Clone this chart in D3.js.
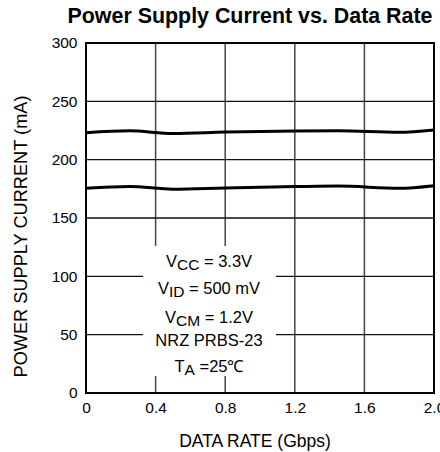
<!DOCTYPE html>
<html>
<head>
<meta charset="utf-8">
<script src="https://cdn.jsdelivr.net/npm/d3@7"></script>
<style>
    body { margin: 0; background: #fff; }
    svg { display: block; font-family: "Liberation Sans", Arial, sans-serif; }
</style>
</head>
<body>
<svg id="chart"></svg>
<script>
// data
const rates = [0, 0.25, 0.5, 0.8, 1.2, 1.45, 1.8, 2.0];
const upperCurrent = [223.1, 224.8, 222.4, 223.7, 224.6, 224.7, 223.4, 225.4];
const lowerCurrent = [175.4, 177.1, 174.7, 175.8, 176.9, 177.4, 175.5, 177.7];
const xTicks = [0, 0.4, 0.8, 1.2, 1.6, 2.0];
const yTicks = [0, 50, 100, 150, 200, 250, 300];
const notes = [
    { main: 'V', sub: 'CC', rest: ' = 3.3V' },
    { main: 'V', sub: 'ID', rest: ' = 500 mV' },
    { main: 'V', sub: 'CM', rest: ' = 1.2V' },
    { main: 'NRZ PRBS-23', sub: '', rest: '' },
    { main: 'T', sub: 'A', rest: ' =25\u2103' }
];

const width = 440, height = 452;
const margin = { top: 43, right: 6, bottom: 59, left: 86 };
const innerW = width - margin.left - margin.right;
const innerH = height - margin.top - margin.bottom;

const svg = d3.select('#chart')
    .attr('width', width)
    .attr('height', height);

const bounds = svg.append('g')
    .attr('transform', `translate(${margin.left}, ${margin.top})`);

const xScale = d3.scaleLinear().domain([0, 2]).range([0, innerW]);
const yScale = d3.scaleLinear().domain([0, 300]).range([innerH, 0]);

// grid
bounds.append('g').selectAll('line')
    .data(xTicks.slice(1, -1))
    .join('line')
    .attr('x1', d => xScale(d)).attr('x2', d => xScale(d))
    .attr('y1', 0).attr('y2', innerH)
    .attr('stroke', '#444').attr('stroke-width', 1.5);

bounds.append('g').selectAll('line')
    .data(yTicks.slice(1, -1))
    .join('line')
    .attr('x1', 0).attr('x2', innerW)
    .attr('y1', d => yScale(d)).attr('y2', d => yScale(d))
    .attr('stroke', '#111').attr('stroke-width', 1.3);

// white box behind the conditions text
bounds.append('rect')
    .attr('x', xScale(0.328))
    .attr('y', yScale(126))
    .attr('width', xScale(1.092) - xScale(0.328))
    .attr('height', yScale(14.6) - yScale(126))
    .attr('fill', '#fff');

// frame
bounds.append('rect')
    .attr('width', innerW).attr('height', innerH)
    .attr('fill', 'none').attr('stroke', '#000').attr('stroke-width', 2);

// axes
const xAxis = d3.axisBottom(xScale)
    .tickValues(xTicks)
    .tickSize(0)
    .tickPadding(9)
    .tickFormat(d => d === 0 ? '0' : d3.format('.1f')(d));

const yAxis = d3.axisLeft(yScale)
    .tickValues(yTicks)
    .tickSize(0)
    .tickPadding(8.5);

const xAxisG = bounds.append('g')
    .attr('transform', `translate(0, ${innerH})`)
    .call(xAxis);
const yAxisG = bounds.append('g').call(yAxis);

[xAxisG, yAxisG].forEach(g => {
    g.select('.domain').remove();
    g.selectAll('text')
        .attr('font-size', 15.5)
        .attr('font-family', '"Liberation Sans", Arial, sans-serif')
        .attr('fill', '#000');
});

// curves
const line = d3.line()
    .x((d, i) => xScale(rates[i]))
    .y(d => yScale(d))
    .curve(d3.curveMonotoneX);

[upperCurrent, lowerCurrent].forEach(series => {
    bounds.append('path')
        .datum(series)
        .attr('d', line)
        .attr('fill', 'none')
        .attr('stroke', '#000')
        .attr('stroke-width', 3);
});

// conditions text
const noteY = [266.7, 294, 323, 346, 372];
notes.forEach((n, i) => {
    const t = svg.append('text')
        .attr('x', 209)
        .attr('y', noteY[i])
        .attr('text-anchor', 'middle')
        .attr('font-size', 16.5);
    t.append('tspan').text(n.main);
    if (n.sub) {
        t.append('tspan').attr('dy', 3).attr('font-size', 15.5).text(n.sub);
        t.append('tspan').attr('dy', -3).text(n.rest);
    }
});

// titles
svg.append('text')
    .attr('x', 250).attr('y', 23)
    .attr('text-anchor', 'middle')
    .attr('font-size', 21.4).attr('font-weight', 'bold')
    .text('Power Supply Current vs. Data Rate');

svg.append('text')
    .attr('x', 255).attr('y', 447)
    .attr('text-anchor', 'middle')
    .attr('font-size', 17.5)
    .text('DATA RATE (Gbps)');

svg.append('text')
    .attr('transform', 'translate(27, 236.5) rotate(-90)')
    .attr('text-anchor', 'middle')
    .attr('font-size', 18.2)
    .text('POWER SUPPLY CURRENT (mA)');
</script>
</body>
</html>
